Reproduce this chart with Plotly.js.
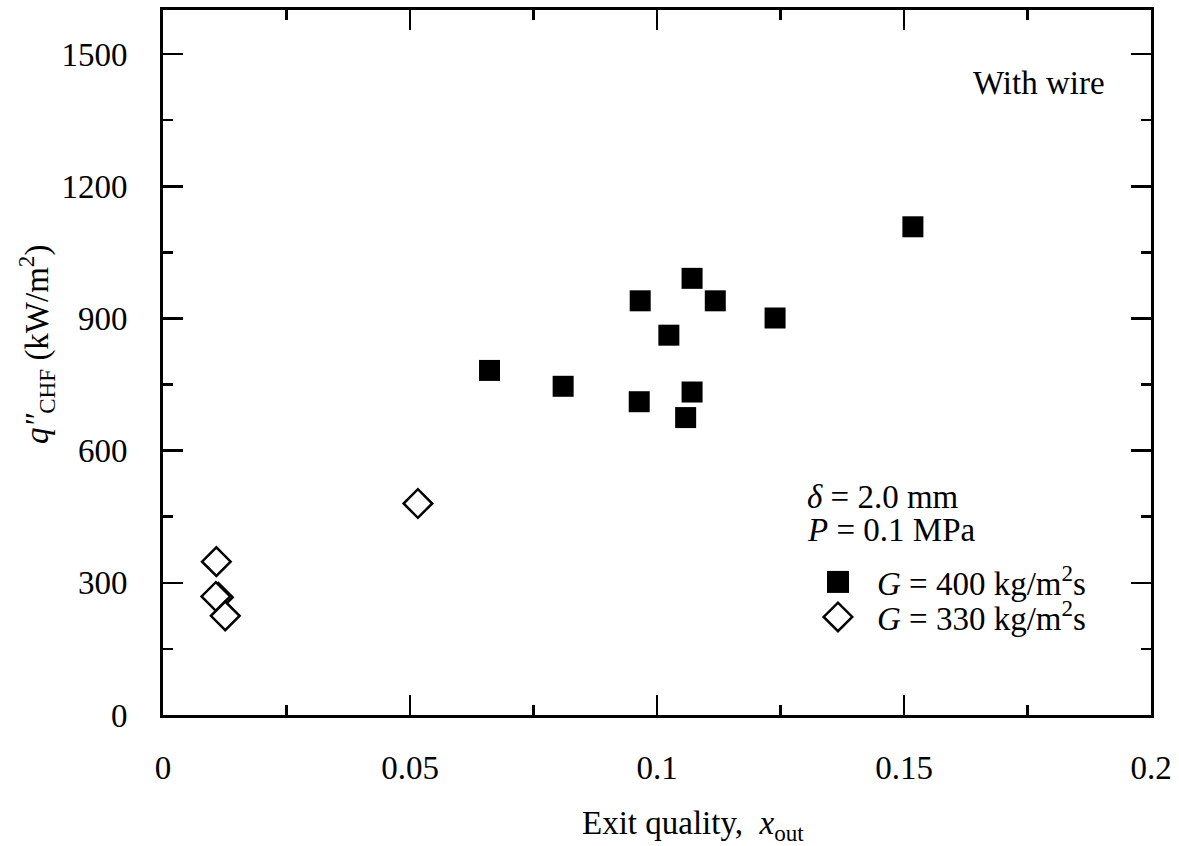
<!DOCTYPE html>
<html><head><meta charset="utf-8">
<script src="https://cdn.plot.ly/plotly-3.0.1.min.js"></script>
<style>html,body{margin:0;padding:0;background:#fff}</style>
</head><body>
<div id="chart" style="width:1179px;height:846px"></div>
<script>
// G = 400 kg/m2s (filled squares)
const sqX = [0.1518, 0.1071, 0.0966, 0.1118, 0.1239, 0.1024, 0.0661, 0.0810, 0.0964, 0.1071, 0.1058];
const sqY = [1108, 991, 940, 940, 901, 862, 782, 746, 711, 733, 675];
// G = 330 kg/m2s (open diamonds)
const diaX = [0.0516, 0.0108, 0.0112, 0.0107, 0.0126];
const diaY = [480, 348, 267, 269, 225];
const xTicks = [0, 0.05, 0.1, 0.15, 0.2];
const yTicks = [0, 300, 600, 900, 1200, 1500];

const FONT = "Liberation Serif, 'Times New Roman', serif";

const traces = [
  {type:'scatter', mode:'markers', x:sqX, y:sqY, legend:'legend',
   name:'<i>G</i> = 400 kg/m<sup>2</sup>s',
   marker:{symbol:'square', size:21, color:'#000', line:{width:0}}},
  {type:'scatter', mode:'markers', x:diaX, y:diaY, legend:'legend2',
   name:'<i>G</i> = 330 kg/m<sup>2</sup>s',
   marker:{symbol:'diamond', size:22, color:'#fff', line:{width:2.5, color:'#000'}}}
];

function axis(range, ticks, minorDtick, standoff){
  return {
    range:range, tickmode:'array', tickvals:ticks, ticktext:ticks.map(String),
    ticks:'inside', ticklen:20, tickwidth:2.5, tickcolor:'#000',
    showline:true, linewidth:3, linecolor:'#000', mirror:'ticks',
    showgrid:false, zeroline:false, fixedrange:true,
    minor:{dtick:minorDtick, tick0:0, ticks:'inside', ticklen:10, tickwidth:2.5, tickcolor:'#000', showgrid:false},
    ticklabelstandoff:standoff,
    tickfont:{family:FONT, size:33, color:'#000'}
  };
}

const legendBase = {xref:'paper', yref:'paper', xanchor:'left', yanchor:'middle',
  itemwidth:68, bgcolor:'rgba(0,0,0,0)', borderwidth:0, font:{family:FONT, size:33, color:'#000'}};

const layout = {
  width:1179, height:846,
  margin:{l:163, r:28, t:10, b:131},
  paper_bgcolor:'#fff', plot_bgcolor:'#fff',
  font:{family:FONT, size:33, color:'#000'},
  showlegend:true,
  xaxis: axis([0, 0.2], xTicks, 0.025, 21),
  yaxis: axis([0, 1600], yTicks, 150, 26),
  legend: Object.assign({}, legendBase, {x:0.6437, y:0.1887}),
  legend2: Object.assign({}, legendBase, {x:0.6437, y:0.139}),
  annotations:[
    {xref:'paper', yref:'paper', x:0.9555, y:0.8965, xanchor:'right', yanchor:'middle',
     text:'With wire', showarrow:false, font:{family:FONT, size:33, color:'#000'}},
    {xref:'paper', yref:'paper', x:0.6498, y:0.309, xanchor:'left', yanchor:'middle',
     text:'<i>δ</i> = 2.0 mm', showarrow:false, font:{family:FONT, size:33, color:'#000'}},
    {xref:'paper', yref:'paper', x:0.6498, y:0.262, xanchor:'left', yanchor:'middle',
     text:'<i>P</i> = 0.1 MPa', showarrow:false, font:{family:FONT, size:33, color:'#000'}},
    {xref:'paper', yref:'paper', x:0.5364, y:-0.1574, xanchor:'center', yanchor:'middle',
     text:'Exit quality,  <i>x</i><sub>out</sub>', showarrow:false, font:{family:FONT, size:33, color:'#000'}},
    {xref:'paper', yref:'paper', x:-0.1285, y:0.5248, xanchor:'center', yanchor:'middle', textangle:-90,
     text:'<i>q″</i><sub>CHF</sub> (kW/m<sup>2</sup>)', showarrow:false, font:{family:FONT, size:33, color:'#000'}}
  ]
};

Plotly.newPlot('chart', traces, layout, {staticPlot:true, displayModeBar:false}).then(function(gd){
  gd.querySelectorAll('.legendpoints path.scatterpts').forEach(function(p){
    var t = p.getAttribute('transform') || '';
    p.setAttribute('transform', t + ' scale(1.375)');
    p.style.vectorEffect = 'non-scaling-stroke';
  });
});
</script>
</body></html>
